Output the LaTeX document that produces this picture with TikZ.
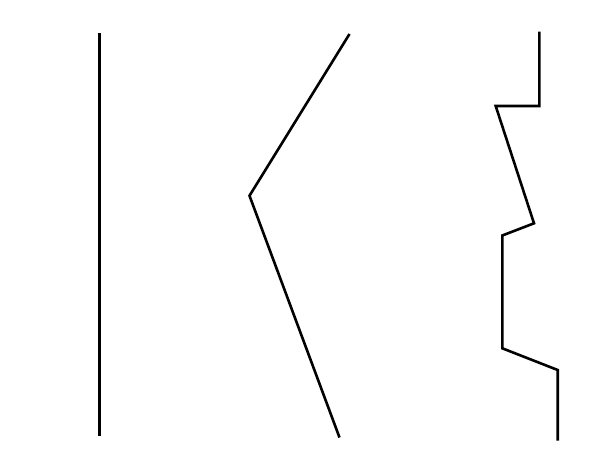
\documentclass[tikz,border=0pt]{standalone}
\begin{document}
\begin{tikzpicture}[x=1pt,y=-1pt,
  trace/.style={line width=2.6pt, line join=miter, line cap=butt, black}]
\useasboundingbox[fill=white] (0,0) rectangle (603,466);
% straight line
\draw[trace] (99.3,33) -- (99.3,435.5);
% bent line
\draw[trace] (349.5,34) -- (249.5,195.7) -- (339.5,437.5);
% zigzag line
\draw[trace] (539.3,31.5) -- (539.3,106) -- (495.7,106) -- (534,223.3)
  -- (502.3,235.5) -- (502.3,348.3) -- (557.7,370) -- (557.7,440.7);
\end{tikzpicture}
\end{document}
